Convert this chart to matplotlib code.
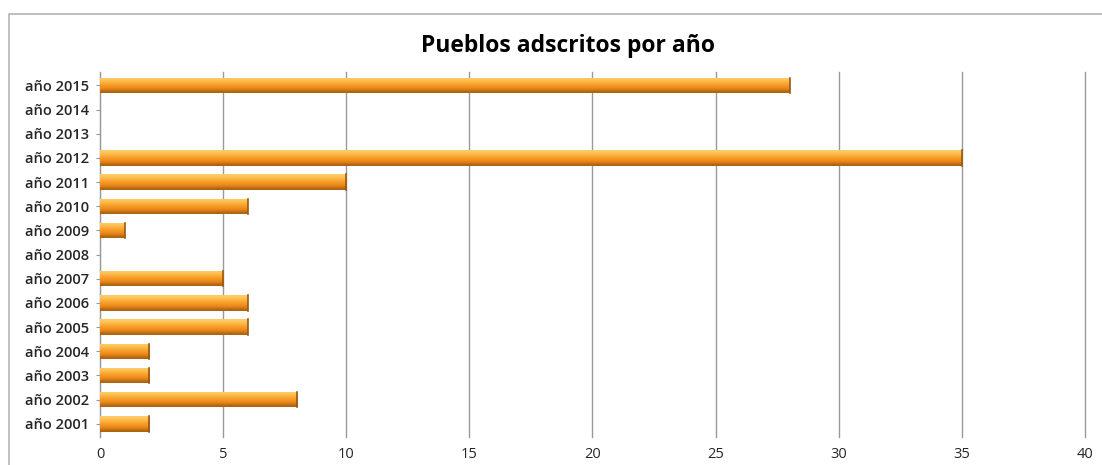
import numpy as np
import matplotlib.pyplot as plt
from matplotlib.lines import Line2D

# Pueblos adscritos por año
years = ["año 2001", "año 2002", "año 2003", "año 2004", "año 2005", "año 2006",
         "año 2007", "año 2008", "año 2009", "año 2010", "año 2011", "año 2012",
         "año 2013", "año 2014", "año 2015"]
counts = [2, 8, 2, 2, 6, 6, 5, 0, 1, 6, 10, 35, 0, 0, 28]
xticks = [0, 5, 10, 15, 20, 25, 30, 35, 40]

plt.rcParams['font.family'] = ['Open Sans', 'DejaVu Sans']

fig = plt.figure(figsize=(11.02, 4.65), dpi=100)
# chart frame: only top and left edges are inside the picture
fx, fy = 8.5 / 1102, 1 - 14 / 465
fig.lines.append(Line2D([fx, fx, 1.0], [0.0, fy, fy], transform=fig.transFigure,
                        color='#b4b4b4', linewidth=1.2))
ax = fig.add_axes([0.0907, 0.06, 0.8939, 0.785])

# vertical gradient for the bars (dark bottom, light top)
grad = np.array([[0.66, 0.38, 0.06], [0.90, 0.52, 0.10], [0.96, 0.58, 0.13],
                 [0.98, 0.64, 0.18], [0.99, 0.74, 0.30], [0.99, 0.80, 0.40]])
grad = grad.reshape(6, 1, 3)

h = 0.64
ypos = np.arange(len(years))
bars = ax.barh(ypos, counts, height=h, color='#f39a25', edgecolor='none', zorder=2)
for b in bars:
    w = b.get_width()
    if w <= 0:
        continue
    y0 = b.get_y()
    im = ax.imshow(grad, extent=[0, w, y0, y0 + h], aspect='auto', origin='lower',
                   interpolation='bicubic', zorder=3)
    im.set_clip_path(b)
    ax.plot([w, w], [y0, y0 + h], color='#9a5810', lw=1.2, zorder=4)

ax.set_xlim(0, 40)
ax.set_ylim(-0.55, len(years) - 0.45)
ax.set_xticks(xticks)
ax.set_yticks(ypos)
ax.set_yticklabels(years, fontsize=10.5, fontweight='semibold', color='#262626')
ax.tick_params(axis='x', labelsize=10.5, length=0, pad=7, labelcolor='#262626')
ax.tick_params(axis='y', length=3, color='#999999', pad=5)
ax.grid(axis='x', color='#999999', linewidth=1.0, zorder=0)
for gl in ax.get_xgridlines():
    gl.set_clip_on(False)
for s in ['top', 'right', 'bottom']:
    ax.spines[s].set_visible(False)
ax.spines['left'].set_color('#999999')

fig.text(0.515, 0.90, "Pueblos adscritos por año", ha='center', va='center',
         fontsize=16.5, fontweight='bold')

fig.savefig("out.png", dpi=100)
